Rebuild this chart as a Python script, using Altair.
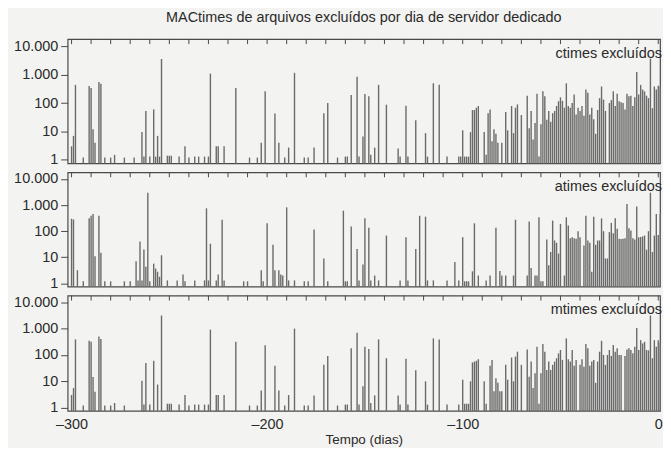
import altair as alt
import pandas as pd

TITLE = "MACtimes de arquivos excluídos por dia de servidor dedicado"
X_TITLE = "Tempo (dias)"
PANEL_LABELS = ["ctimes excluídos", "atimes excluídos", "mtimes excluídos"]
Y_TICKS = [1, 10, 100, 1000, 10000]
X_TICKS = [-300, -200, -100, 0]
TOP_TICKS = list(range(-300, 1, 10))

# ---- ctimes ----
c_days = [-300, -299, -298, -294, -291, -290, -289, -288, -286, -285, -283, -280, -278, -273, -268,
          -264, -263, -262, -260, -258, -257, -256, -255, -254, -251, -250, -249, -245, -242, -240,
          -237, -235, -232, -230, -229, -226, -225, -222, -216, -209, -205, -203, -201, -196, -194,
          -191, -189, -186, -181, -179, -176, -171, -169, -164, -160, -159, -157, -154, -153, -151,
          -150, -148, -147, -145, -143, -139, -133, -132, -129, -128, -124, -119, -118, -115, -112,
          -108, -102, -101, -100, -99, -98, -97, -96, -95, -94, -93, -92, -89, -88, -87,
          -86, -85, -84, -83, -82, -80, -78, -77, -75, -74, -73, -72, -70, -67, -66,
          -65, -64, -63, -62, -61, -60, -59, -58, -57, -56, -55, -54, -53, -52, -51,
          -50, -49, -48, -47, -46, -45, -44, -43, -42, -41, -40, -39, -38, -37, -36,
          -35, -34, -33, -32, -31, -30, -29, -28, -27, -25, -24, -23, -22, -21, -20,
          -19, -18, -17, -16, -15, -14, -13, -12, -11, -10, -9, -8, -7, -6, -5,
          -4, -3, -2, -1, 0, 1]
c_vals = [3, 7, 440, 1.2, 400, 340, 12, 4, 550, 480, 1.2, 1.2, 1.5, 1.2, 1.2,
          9.5, 1.3, 53, 1.3, 60, 1.3, 7, 1.3, 3600, 1.4, 1.4, 1.4, 1.3, 3, 1.2,
          1.3, 1.3, 1.3, 1.3, 1100, 3, 3, 3, 340, 1.2, 1.2, 4, 260, 43, 4,
          1.2, 2.7, 1170, 1.2, 1.2, 2.7, 44, 100, 1.2, 1.3, 1.3, 195, 850, 1.3, 6.7,
          210, 175, 1.5, 2.7, 440, 88, 2.5, 1.3, 80, 1.3, 25, 8.8, 1.3, 500, 440,
          1.3, 1.3, 1.3, 11, 1.3, 1.3, 1.3, 9.5, 57, 57, 69, 79, 9.5, 1.5, 44,
          60, 4.5, 12, 8.3, 4, 4, 49, 11, 79, 8.8, 69, 90, 38, 183, 13,
          53, 5.2, 20, 215, 1.3, 18, 260, 175, 26, 53, 22, 44, 53, 79, 117,
          160, 120, 69, 500, 79, 69, 100, 200, 40, 69, 53, 79, 36, 300, 230,
          40, 69, 27, 8.3, 57, 150, 385, 133, 53, 100, 127, 260, 79, 215, 117,
          108, 100, 60, 215, 175, 183, 79, 160, 1260, 200, 440, 300, 260, 183, 150,
          3700, 66, 385, 300, 410, 385]

# ---- atimes ----
a_days = [-300, -299, -297, -294, -291, -290, -289, -288, -286, -285, -283, -280, -273, -270, -267,
          -266, -265, -264, -263, -262, -261, -260, -258, -257, -256, -255, -254, -251, -246, -243,
          -242, -237, -232, -231, -230, -229, -226, -225, -223, -222, -212, -210, -203, -202, -200,
          -197, -196, -194, -193, -192, -190, -189, -186, -181, -179, -176, -171, -169, -161, -160,
          -159, -157, -154, -153, -151, -150, -148, -147, -145, -143, -139, -132, -129, -128, -124,
          -122, -119, -118, -115, -108, -104, -102, -100, -99, -98, -97, -95, -94, -92, -88,
          -86, -83, -81, -80, -78, -74, -73, -67, -66, -65, -63, -62, -61, -60, -59,
          -57, -56, -55, -54, -53, -52, -51, -50, -48, -47, -46, -45, -44, -43, -42,
          -41, -40, -38, -37, -36, -35, -34, -33, -32, -31, -30, -29, -28, -27, -26,
          -25, -24, -23, -22, -21, -20, -19, -18, -17, -16, -15, -14, -13, -12, -11,
          -10, -9, -8, -7, -6, -5, -4, -3, -2, -1, 0, 1]
a_vals = [300, 280, 3.2, 1.2, 310, 390, 455, 11, 390, 15, 1.2, 1.2, 1.2, 1.2, 7,
          1.3, 40, 1.3, 20, 4.3, 3000, 1.2, 5.7, 3.7, 2.8, 1.8, 12, 1.3, 1.3, 2.2,
          1.2, 1.3, 1.3, 750, 1.3, 33, 1.3, 2.2, 275, 1.3, 1.2, 1.2, 3.2, 1.2, 200,
          30, 3.2, 3.2, 2.2, 2, 820, 1.3, 1.3, 1.2, 1.2, 115, 9, 1.2, 610, 1.2,
          1.2, 150, 21, 1.3, 5.3, 310, 134, 1.3, 2, 1.3, 68, 1.3, 59, 1.3, 21,
          390, 360, 1.3, 1.3, 1.3, 6.6, 1.3, 59, 1.2, 1.2, 1.2, 2.9, 200, 2, 1.3,
          2, 134, 3, 2, 2, 2, 275, 2, 235, 3.9, 2, 2, 340, 1.2, 1.2,
          48, 5, 16, 255, 44, 36, 14, 190, 2, 340, 165, 54, 59, 54, 51,
          100, 59, 28, 390, 44, 36, 2.8, 360, 30, 44, 44, 310, 100, 9, 9,
          92, 208, 84, 310, 123, 51, 50, 51, 54, 1100, 130, 106, 54, 48, 890,
          59, 60, 63, 68, 19.5, 100, 3000, 16, 68, 455, 72, 455]

# ---- mtimes ----
m_days = [-300, -299, -298, -294, -291, -290, -289, -288, -286, -285, -283, -280, -278, -273, -264,
          -263, -262, -260, -258, -256, -254, -251, -250, -249, -245, -242, -240, -237, -235, -232,
          -230, -229, -226, -225, -222, -216, -209, -205, -203, -201, -196, -194, -191, -189, -186,
          -181, -179, -176, -171, -169, -164, -160, -159, -157, -154, -153, -151, -150, -148, -147,
          -145, -143, -139, -133, -132, -129, -128, -124, -119, -118, -115, -112, -108, -102, -100,
          -99, -98, -97, -96, -95, -94, -93, -92, -89, -88, -86, -85, -84, -83, -82,
          -81, -80, -78, -77, -75, -74, -73, -72, -70, -67, -66, -65, -64, -63, -62,
          -61, -60, -59, -58, -57, -56, -55, -54, -53, -52, -51, -50, -49, -47, -46,
          -45, -44, -43, -42, -40, -39, -38, -37, -36, -35, -34, -33, -32, -31, -30,
          -29, -28, -27, -26, -25, -24, -23, -22, -21, -20, -19, -17, -16, -15, -14,
          -13, -12, -11, -10, -9, -8, -7, -6, -5, -4, -3, -2, -1, 0, 1]
m_vals = [3, 5.5, 390, 1.2, 350, 320, 14.5, 4, 500, 400, 1.2, 1.2, 1.5, 1.2, 10.5,
          1.3, 49, 1.3, 60, 7.5, 3150, 1.4, 1.4, 1.4, 1.3, 3, 1.2, 1.3, 1.3, 1.3,
          1.3, 920, 3, 3, 3, 316, 1.2, 1.2, 4.5, 235, 39, 4.5, 1.2, 3, 1000,
          1.2, 1.2, 2.9, 42, 92, 1.2, 1.3, 1.3, 178, 690, 1.3, 6.5, 205, 167, 1.5,
          2.9, 390, 75, 2.9, 1.3, 71, 1.3, 26, 10, 1.3, 425, 390, 1.3, 1.3, 11.5,
          1.4, 1.4, 1.4, 10, 52, 56, 60, 69, 10, 1.4, 39, 65, 4.2, 13, 8.7,
          4.2, 4.2, 42, 11.5, 80, 10, 87, 133, 42, 162, 15, 56, 5.6, 20, 205,
          1.4, 20, 258, 133, 27, 56, 27, 42, 56, 75, 115, 154, 65, 425, 69,
          56, 154, 39, 65, 42, 69, 36, 258, 178, 39, 56, 65, 8.7, 56, 133,
          345, 100, 42, 100, 154, 92, 237, 133, 178, 100, 100, 92, 162, 178, 154,
          115, 205, 1050, 154, 365, 275, 315, 154, 150, 3160, 75, 365, 205, 365, 290]

W = 596
HEIGHTS = [125, 115, 116]
BAR = "#6a6a6a"
FRAME = "#4a4a4a"
TEXT = "#2a2a2a"
FONT = "Liberation Sans"
FS = 14.5

xscale = alt.Scale(domain=[-302, 0.9], nice=False, zero=False)
yscale = alt.Scale(type="log", domain=[0.75, 18000], nice=False)


def panel(days, vals, label, h, show_x, title=None):
    df = pd.DataFrame({"day": days, "n": vals})
    if show_x:
        xaxis = alt.Axis(values=X_TICKS, title=X_TITLE, grid=False, domain=False, ticks=False,
                         labelExpr="datum.value < 0 ? '–' + abs(datum.value) : '0'",
                         labelFlush=False, labelOverlap=False,
                         labelFontSize=FS, labelPadding=7, labelColor=TEXT,
                         titleFontSize=13.5, titleFontWeight="normal", titlePadding=1,
                         titleColor=TEXT, labelFont=FONT, titleFont=FONT)
    else:
        xaxis = None
    xenc = alt.X("day:Q", scale=xscale, axis=xaxis)
    bars = alt.Chart(df).mark_rule(strokeWidth=1.4, color=BAR).encode(
        x=xenc,
        y=alt.Y("n:Q", scale=yscale,
                axis=alt.Axis(values=Y_TICKS, title=None, grid=False, domain=False,
                              tickSize=7, tickColor=FRAME, labelFontSize=FS, labelPadding=3,
                              labelColor=TEXT, labelFont=FONT, minExtent=54, maxExtent=54,
                              labelExpr="datum.value >= 1000 ? replace(format(datum.value, ','), ',', '.') : format(datum.value, 'd')")),
        y2=alt.value(h),
    )
    tdf = pd.DataFrame({"day": TOP_TICKS})
    ticks = alt.Chart(tdf).mark_rule(color=FRAME, strokeWidth=1).encode(
        x=xenc, y=alt.value(0), y2=alt.value(5))
    ldf = pd.DataFrame({"t": [label]})
    txt = alt.Chart(ldf).mark_text(align="right", baseline="middle", fontSize=FS,
                                   font=FONT, color=TEXT).encode(
        x=alt.value(W + 2), y=alt.value(15), text="t:N")
    props = dict(width=W, height=h)
    if title is not None:
        props["title"] = alt.TitleParams(title, fontSize=FS, fontWeight="normal", font=FONT,
                                         color=TEXT, anchor="middle", frame="group", offset=13)
    return alt.layer(bars, ticks, txt).properties(**props)


chart = alt.vconcat(
    panel(c_days, c_vals, PANEL_LABELS[0], HEIGHTS[0], False, TITLE),
    panel(a_days, a_vals, PANEL_LABELS[1], HEIGHTS[1], False),
    panel(m_days, m_vals, PANEL_LABELS[2], HEIGHTS[2], True),
    spacing=9,
    bounds="flush",
).properties(
    padding={"left": 5, "top": 0, "right": 0, "bottom": 0},
    background="#f3f3f1",
).configure_view(stroke=FRAME, strokeWidth=1.2)

chart.save("out.html", embed_options={"renderer": "svg", "actions": False})
